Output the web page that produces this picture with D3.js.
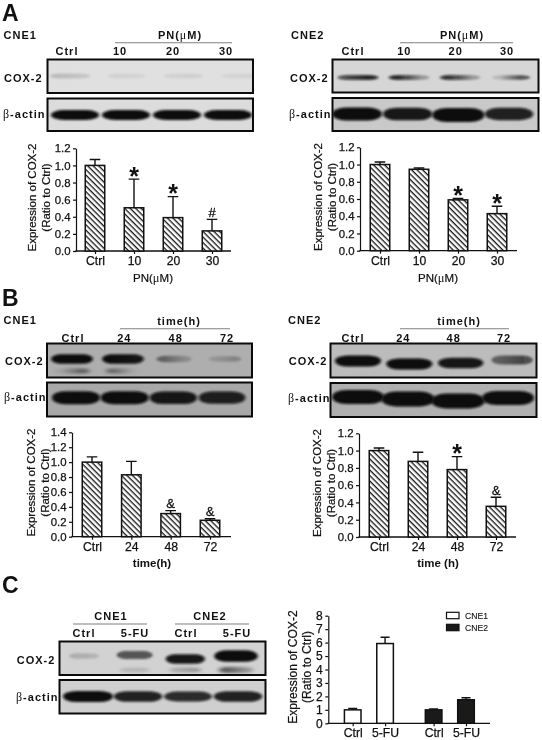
<!DOCTYPE html>
<html><head><meta charset="utf-8">
<script src="https://cdn.jsdelivr.net/npm/d3@7/dist/d3.min.js"></script>
<style>
html,body{margin:0;padding:0;background:#fff}
svg{display:block;filter:blur(0.35px)}
text{font-family:"Liberation Sans",Arial,sans-serif;fill:#111}
.lab{font-weight:700;font-size:11px;letter-spacing:1px}
.tick text{font-size:11.4px;stroke:#111;stroke-width:.25px}
.xa .tick text{font-size:12.2px}
.al{font-size:11.5px;stroke:#111;stroke-width:.22px}
.serif{font-family:"Liberation Serif",serif;font-weight:400;stroke:none}
</style></head><body>
<script>
// ---- chart data ----
const dosesA = ["Ctrl","10","20","30"];
const timesB = ["Ctrl","24","48","72"];
const groupsC = ["Ctrl","5-FU","Ctrl","5-FU"];

const a1Values = [1.0,0.505,0.39,0.235];
const a1ErrTop = [1.07,0.84,0.635,0.37];
const a1Marks  = ["","*","*","#"];
const a2Values = [1.0,0.945,0.59,0.43];
const a2ErrTop = [1.03,0.96,0.605,0.515];
const a2Marks  = ["","","*","*"];
const b1Values = [1.0,0.83,0.31,0.22];
const b1ErrTop = [1.07,1.01,0.35,0.24];
const b1Marks  = ["","","&","&"];
const b2Values = [1.0,0.875,0.78,0.355];
const b2ErrTop = [1.03,0.98,0.93,0.46];
const b2Marks  = ["","","*","&"];
const cValues  = [1.0,5.93,1.0,1.75];
const cErrTop  = [1.1,6.4,1.07,1.9];
const cSeries  = ["CNE1","CNE1","CNE2","CNE2"];
const yTicks12 = [0,0.2,0.4,0.6,0.8,1.0,1.2];
const yTicks14 = [0,0.2,0.4,0.6,0.8,1.0,1.2,1.4];
const yTicksC  = [0,1,2,3,4,5,6,7,8];

// blot band darkness per lane: [left edge, right edge]
const a1Cox   = [[.17,.12],[.07,.06],[.07,.08],[.05,.07]];
const a1Actin = [[1,1],[1,1],[1,1],[1,1]];
const a2Cox   = [[.7,.9],[.9,.3],[.85,.3],[.15,.7]];
const a2Actin = [[1,1],[.95,.95],[1.15,1.15],[.9,.9]];
const b1Cox   = [[1,1],[1,.95],[.45,.2],[.14,.25]];
const b1Actin = [[1,1],[1,1],[.95,.95],[.9,.9]];
const b1Ghost = [[.08,.5],[.45,.03],[0,0],[0,0]];
const b2Cox   = [[1,1],[1,1],[.95,.95],[.5,.65]];
const b2Actin = [[1,1],[1.1,1.1],[1.1,1.1],[1,1]];
const cCox    = [[.18,.15],[.65,.65],[.95,.95],[1.3,1.3]];
const cActin  = [[1,1],[.9,.9],[.85,.85],[.9,.9]];
const cGhost  = [[0,0],[.15,.15],[.2,.3],[.6,.3]];

// ---- layout of blots (not data) ----
const laneDy = {a2Actin:[0,0,1,0], b2Cox:[0,3,2,-1], b2Actin:[-1,1,3,0], cCox:[0,-1,3,0]};

// ---- helpers ----
const W=542,H=740;
const svg=d3.select("body").append("svg").attr("width",W).attr("height",H);
const defs=svg.append("defs");
const hatch=defs.append("pattern").attr("id","hatch").attr("patternUnits","userSpaceOnUse")
  .attr("width",3.9).attr("height",3.9).attr("patternTransform","rotate(45)");
hatch.append("rect").attr("width",3.9).attr("height",3.9).attr("fill","#fff");
hatch.append("rect").attr("width",3.9).attr("height",1.35).attr("fill","#1a1a1a");
defs.append("filter").attr("id","soft").attr("x","-30%").attr("y","-80%").attr("width","160%").attr("height","260%")
  .append("feGaussianBlur").attr("stdDeviation","1.8 1.2");
defs.append("filter").attr("id","softer").attr("x","-30%").attr("y","-120%").attr("width","160%").attr("height","340%")
  .append("feGaussianBlur").attr("stdDeviation","2.4 1.8");
let uid=0;

function label(x,y,parts,opt={}){
  const t=svg.append("text").attr("class",opt.cls||"lab").attr("x",x).attr("y",y)
    .attr("text-anchor",opt.anchor||"start");
  parts.forEach(p=>{
    const s=t.append("tspan").text(p.t);
    if(p.serif) s.attr("class","serif").style("font-size",(opt.serifSize||12)+"px");
  });
  return t;
}
const bActin=[{t:"β",serif:true},{t:"-actin"}];
const pnUm=[{t:"PN("},{t:"μ",serif:true},{t:"M)"}];

function blot(p){
  const g=svg.append("g");
  const id="c"+(uid++);
  defs.append("clipPath").attr("id",id).append("rect")
    .attr("x",p.x0).attr("y",p.y0).attr("width",p.x1-p.x0).attr("height",p.y1-p.y0);
  g.append("rect").attr("x",p.x0).attr("y",p.y0).attr("width",p.x1-p.x0).attr("height",p.y1-p.y0).attr("fill",p.bg);
  const inner=g.append("g").attr("clip-path",`url(#${id})`);
  const lane=d3.scalePoint().domain(d3.range(p.data.length)).range(p.lanes);
  const thick=d3.scaleLinear().domain([0,1]).range([p.ry*0.45,p.ry]);
  const wide=d3.scaleLinear().domain([0,1]).range([p.hw*0.7,p.hw]);
  const draw=(rows,cy,k,dy,filter)=>{
    rows.forEach((v,i)=>{
      const m=d3.max(v);
      if(m<=0) return;
      const gid="g"+(uid++);
      const lg=defs.append("linearGradient").attr("id",gid);
      lg.append("stop").attr("offset","20%").attr("stop-color","#0a0a0a").attr("stop-opacity",Math.min(1,v[0]));
      lg.append("stop").attr("offset","80%").attr("stop-color","#0a0a0a").attr("stop-opacity",Math.min(1,v[1]));
      const hh=thick(m)*k, hw=wide(m);
      inner.append("rect")
        .attr("x",lane(i)-hw).attr("width",hw*2)
        .attr("y",cy+(dy?dy[i]:0)-hh).attr("height",hh*2)
        .attr("rx",hw*0.55).attr("ry",hh)
        .attr("fill",`url(#${gid})`)
        .attr("filter",`url(#${filter})`);
    });
  };
  if(p.ghost) draw(p.ghost,p.ghostY,0.75,null,"softer");
  draw(p.data,p.cy,1,p.dy,"soft");
  g.append("rect").attr("x",p.x0).attr("y",p.y0).attr("width",p.x1-p.x0).attr("height",p.y1-p.y0)
    .attr("fill","none").attr("stroke","#0b0b0b").attr("stroke-width",2);
}

function topLabels(names,first,last,y){
  const s=d3.scalePoint().domain(d3.range(names.length)).range([first,last]);
  names.forEach((n,i)=>label(s(i),y,[{t:n}],{anchor:"middle"}));
}
function rule(x0,x1,y){
  svg.append("line").attr("x1",x0).attr("x2",x1).attr("y1",y).attr("y2",y).attr("stroke","#808080").attr("stroke-width",1.1);
}
function styleAxis(a){
  a.selectAll("line,path").attr("stroke","#111").attr("stroke-width",1.2);
}

function barChart(c){
  const g=svg.append("g");
  const y=d3.scaleLinear().domain([0,c.ymax]).range([c.y0,c.yTop]);
  const x=d3.scalePoint().domain(d3.range(c.cats.length)).range(c.centers);
  const bw=19.5;
  const xa=g.append("g").attr("class","xa").attr("transform",`translate(0,${c.y0})`)
    .call(d3.axisBottom(x).tickSize(3).tickPadding(2.5).tickFormat(i=>c.cats[i]));
  xa.select(".domain").remove();
  const ya=g.append("g").attr("transform",`translate(${c.x0},0)`)
    .call(d3.axisLeft(y).tickValues(c.ticks).tickSize(3).tickSizeOuter(0).tickPadding(2.5).tickFormat(d3.format(".1f")));
  styleAxis(xa);styleAxis(ya);
  g.append("line").attr("x1",c.x0-0.6).attr("x2",c.x1).attr("y1",c.y0).attr("y2",c.y0).attr("stroke","#111").attr("stroke-width",1.3);
  const idx=d3.range(c.cats.length);
  g.selectAll(".err").data(idx).join("path").attr("fill","none").attr("stroke","#111").attr("stroke-width",1.4)
    .attr("d",i=>`M${x(i)},${y(c.values[i])}V${y(c.err[i])}M${x(i)-5.3},${y(c.err[i])}H${x(i)+5.3}`);
  g.selectAll(".bar").data(idx).join("rect")
    .attr("x",i=>x(i)-bw/2).attr("width",bw)
    .attr("y",i=>y(c.values[i])).attr("height",i=>c.y0-y(c.values[i]))
    .attr("fill","url(#hatch)")
    .attr("stroke","#111").attr("stroke-width",1.5);
  idx.filter(i=>c.marks[i]).forEach(i=>{
    const m=c.marks[i], big=m==="*";
    g.append("text").attr("x",x(i)).attr("y",y(c.err[i])+(big?5.5:-2.5))
      .attr("text-anchor","middle").attr("font-weight",big?700:400)
      .style("stroke",big?"none":"#111").style("stroke-width",".3px")
      .attr("font-size",big?25:13).text(m);
  });
  [["Expression of COX-2",c.tx1],["(Ratio to Ctrl)",c.tx2]].forEach(([t,tx])=>{
    g.append("text").attr("class","al").attr("text-anchor","middle")
      .attr("transform",`translate(${tx},${c.titleY}) rotate(-90)`).text(t);
  });
  const t=g.append("text").attr("class","al").attr("x",c.xTitleX).attr("y",c.xTitleY).attr("text-anchor","middle");
  c.xTitle.forEach(p=>{const s=t.append("tspan").text(p.t); if(p.serif) s.attr("class","serif").style("font-size","12.5px");});
  if(c.xBold) t.attr("font-weight",700).style("stroke","none");
}

// ---- panel letters ----
[["A",2,20.5],["B",2,305.5],["C",2,593]].forEach(([t,x,y])=>{
  svg.append("text").attr("x",x).attr("y",y).attr("font-size",23).attr("font-weight",700).text(t);
});

// ---- A / CNE1 ----
label(3.5,39,[{t:"CNE1"}]);
label(180,39,pnUm,{anchor:"middle"});
rule(115,232,42.7);
topLabels(dosesA,67,226,55);
label(4,81.7,[{t:"COX-2"}]);
label(3,117.7,bActin);
blot({x0:47.5,x1:253,y0:59.5,y1:93,bg:"#e0e0e0",data:a1Cox,lanes:[70,240],cy:76,hw:27,ry:4.5});
blot({x0:47.5,x1:253,y0:98.5,y1:131,bg:"#dcdcdc",data:a1Actin,lanes:[75,228],cy:115,hw:24,ry:5});
barChart({cats:dosesA,values:a1Values,err:a1ErrTop,marks:a1Marks,ymax:1.2,ticks:yTicks12,
  y0:251,yTop:148.3,x0:76,x1:231,centers:[95,212],titleY:197.5,tx1:36,tx2:50,
  xTitle:pnUm,xTitleX:153,xTitleY:281.5});

// ---- A / CNE2 ----
label(291,39,[{t:"CNE2"}]);
label(462,39,pnUm,{anchor:"middle"});
rule(400,513,42.7);
topLabels(dosesA,353,507,55);
label(290,81.7,[{t:"COX-2"}]);
label(289,118,bActin);
blot({x0:332.5,x1:538.5,y0:59.5,y1:92.5,bg:"#d6d6d6",data:a2Cox,lanes:[358,511],cy:77.5,hw:21,ry:2.6});
blot({x0:332.5,x1:538.5,y0:98,y1:131,bg:"#c9c9c9",data:a2Actin,lanes:[357,509],cy:114,hw:25,ry:6.5,dy:laneDy.a2Actin});
barChart({cats:dosesA,values:a2Values,err:a2ErrTop,marks:a2Marks,ymax:1.2,ticks:yTicks12,
  y0:250.7,yTop:147.3,x0:360,x1:517,centers:[380,497],titleY:197,tx1:322,tx2:336,
  xTitle:pnUm,xTitleX:438,xTitleY:281.5});

// ---- B / CNE1 ----
label(3.5,323.7,[{t:"CNE1"}]);
label(179,325,[{t:"time(h)"}],{anchor:"middle"});
rule(120,230,328.7);
topLabels(timesB,73,227,341.7);
label(5,365,[{t:"COX-2"}]);
label(4,400.7,bActin);
blot({x0:47,x1:252,y0:343.5,y1:377.5,bg:"#aeaeae",data:b1Cox,lanes:[72,225],cy:359,hw:21,ry:4.8,ghost:b1Ghost,ghostY:371});
blot({x0:47,x1:252,y0:382.5,y1:416.5,bg:"#a8a8a8",data:b1Actin,lanes:[76,222],cy:397.7,hw:24,ry:6.5});
barChart({cats:timesB,values:b1Values,err:b1ErrTop,marks:b1Marks,ymax:1.4,ticks:yTicks14,
  y0:536.7,yTop:432.3,x0:72,x1:231,centers:[92,210],titleY:482.5,tx1:35,tx2:48.5,
  xTitle:[{t:"time(h)"}],xBold:true,xTitleX:152,xTitleY:566.7});

// ---- B / CNE2 ----
label(288,323.7,[{t:"CNE2"}]);
label(459,325,[{t:"time(h)"}],{anchor:"middle"});
rule(400,509,328.7);
topLabels(timesB,353,504,341.7);
label(288.7,365,[{t:"COX-2"}]);
label(288,401.7,bActin);
blot({x0:330.5,x1:536.5,y0:343.5,y1:377.5,bg:"#bcbcbc",data:b2Cox,lanes:[358,512],cy:361,hw:23,ry:5.5,dy:laneDy.b2Cox});
blot({x0:330.5,x1:536.5,y0:383,y1:417,bg:"#b0b0b0",data:b2Actin,lanes:[358,508],cy:398,hw:26,ry:7,dy:laneDy.b2Actin});
barChart({cats:timesB,values:b2Values,err:b2ErrTop,marks:b2Marks,ymax:1.2,ticks:yTicks12,
  y0:537,yTop:433.3,x0:359,x1:516,centers:[379,496],titleY:483,tx1:321,tx2:335,
  xTitle:[{t:"time (h)"}],xBold:true,xTitleX:438,xTitleY:566.7});

// ---- C blot ----
label(111,620,[{t:"CNE1"}],{anchor:"middle"});
label(210,620,[{t:"CNE2"}],{anchor:"middle"});
rule(73,147,624);rule(175,249,624);
topLabels(groupsC,84,237,636.7);
label(16.7,664,[{t:"COX-2"}]);
label(16,701,bActin);
blot({x0:59.5,x1:265.5,y0:641.5,y1:675,bg:"#d2d2d2",data:cCox,lanes:[84,236],cy:656,hw:20,ry:5,dy:laneDy.cCox,ghost:cGhost,ghostY:670});
blot({x0:59.5,x1:265.5,y0:680,y1:713.5,bg:"#cfcfcf",data:cActin,lanes:[88,238],cy:696.5,hw:25,ry:5.5});

// ---- C bars ----
const cColor=d3.scaleOrdinal().domain(["CNE1","CNE2"]).range(["#ffffff","#1a1a18"]);
(function(){
  const slots=[0,1,2.5,3.5];
  const x=d3.scaleLinear().domain([0,3.5]).range([352.7,466]);
  const y=d3.scaleLinear().domain([0,8]).range([723.3,615.7]);
  const g=svg.append("g");
  const xa=g.append("g").attr("class","xa").attr("transform","translate(0,723.3)")
    .call(d3.axisBottom(x).tickValues(slots).tickSize(3).tickPadding(2.5).tickFormat((d,i)=>groupsC[i]));
  xa.select(".domain").remove();
  const ya=g.append("g").attr("transform","translate(328.3,0)")
    .call(d3.axisLeft(y).tickValues(yTicksC).tickSize(3).tickSizeOuter(0).tickPadding(2.5));
  styleAxis(xa);styleAxis(ya);
  ya.selectAll(".tick text").style("font-size","12px");
  g.append("line").attr("x1",327.7).attr("x2",490).attr("y1",723.3).attr("y2",723.3).attr("stroke","#111").attr("stroke-width",1.3);
  const idx=d3.range(cValues.length);
  g.selectAll(".err").data(idx).join("path").attr("fill","none").attr("stroke","#111").attr("stroke-width",1.4)
    .attr("d",i=>`M${x(slots[i])},${y(cValues[i])}V${y(cErrTop[i])}M${x(slots[i])-4.5},${y(cErrTop[i])}H${x(slots[i])+4.5}`);
  g.selectAll(".bar").data(idx).join("rect")
    .attr("x",i=>x(slots[i])-8.3).attr("width",16.6)
    .attr("y",i=>y(cValues[i])).attr("height",i=>723.3-y(cValues[i]))
    .attr("fill",i=>cColor(cSeries[i])).attr("stroke","#111").attr("stroke-width",1.5);
  [["Expression of COX-2",296.5],["(Ratio to Ctrl)",311]].forEach(([t,tx])=>{
    g.append("text").attr("class","al").style("font-size","12.1px").attr("text-anchor","middle")
      .attr("transform",`translate(${tx},667) rotate(-90)`).text(t);
  });
  const legY=d3.scalePoint().domain(["CNE1","CNE2"]).range([615.5,627.5]);
  legY.domain().forEach(s=>{
    g.append("rect").attr("x",446.5).attr("y",legY(s)-3.2).attr("width",12.5).attr("height",6.4)
      .attr("fill",cColor(s)).attr("stroke","#111").attr("stroke-width",1.2);
    g.append("text").attr("x",465).attr("y",legY(s)+3).attr("font-size",8.6).style("stroke","#111").style("stroke-width",".12px").text(s);
  });
})();
</script>
</body></html>
